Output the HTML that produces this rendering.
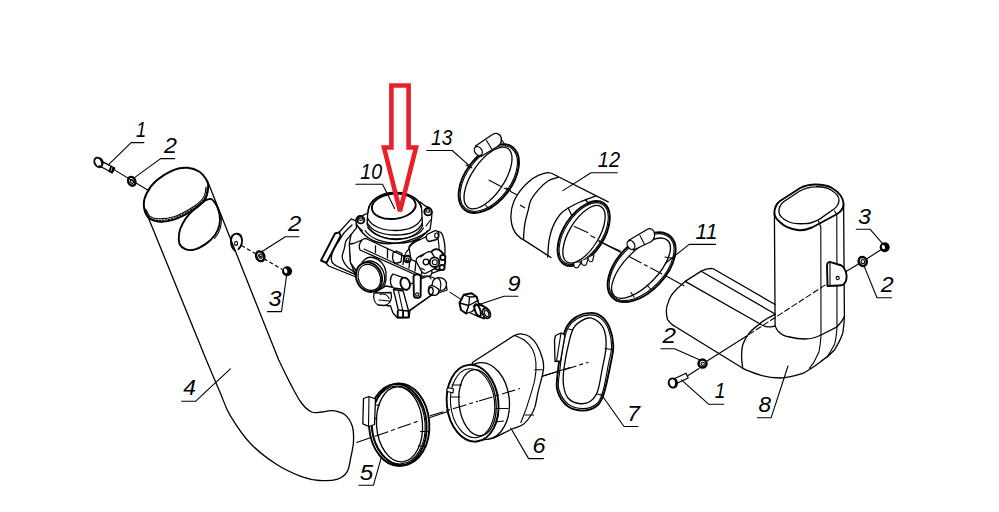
<!DOCTYPE html>
<html><head><meta charset="utf-8"><style>
html,body{margin:0;padding:0;background:#fff;width:999px;height:512px;overflow:hidden}
svg{display:block;position:absolute;left:0;top:0}
.k{fill:none;stroke:#000;stroke-width:1.3;stroke-linejoin:round;stroke-linecap:round}
.b{stroke-width:1.9}
.n{stroke-width:1.1}
.c{fill:none;stroke:#000;stroke-width:1.1;stroke-dasharray:14 3 4 3}
.d{fill:none;stroke:#000;stroke-width:1.2;stroke-dasharray:4 2.5}
.f{fill:#000;stroke:none}
text{font-family:"Liberation Sans",sans-serif;font-style:italic;font-size:22px;fill:#000}
</style></head><body>
<svg width="999" height="512" viewBox="0 0 999 512">
<g id="pipe4">
<path class="k b" d="M143.8,204.9 C143.6,201.0 144.6,197.3 146.7,193.2 C148.8,189.1 151.9,184.4 156.5,180.5 C161.1,176.6 168.8,171.9 174.0,169.8 C179.2,167.7 183.4,167.5 187.7,167.8 C191.9,168.1 196.4,169.8 199.5,171.7 C202.6,173.6 204.9,176.9 206.3,179.5 C207.8,182.1 208.4,184.1 208.2,187.3 C208.0,190.6 207.7,195.2 205.3,199.0 C202.9,202.8 198.8,206.4 193.6,209.8 C188.4,213.2 179.9,217.7 174.0,219.6 C168.1,221.5 162.8,222.0 158.4,221.5 C154.0,221.0 150.1,219.4 147.7,216.6 C145.3,213.8 144.0,208.8 143.8,204.9 Z"/>
<path class="k n" d="M146.3,210.0 C146.9,211.1 148.0,215.0 150.0,216.5 C152.0,218.0 154.4,218.8 158.4,218.8 C162.4,218.9 168.2,218.8 174.0,216.8 C179.8,214.8 188.1,210.2 193.0,207.0 C197.9,203.8 201.3,200.8 203.5,197.5 C205.7,194.2 205.6,188.8 206.0,187.0"/>
<path class="k n" style="stroke-dasharray:1.5 1.5" d="M145.2,212.0 C145.8,213.1 146.8,216.9 149.0,218.3 C151.2,219.7 154.2,220.2 158.4,220.2 C162.6,220.2 168.2,220.2 174.0,218.2 C179.8,216.2 188.2,211.7 193.3,208.4 C198.4,205.1 202.2,201.9 204.5,198.3 C206.8,194.7 206.8,188.9 207.2,187.0"/>
<path class="k" d="M144,207 L206.3,360 C208.6,365.5 216.3,383.7 220.3,393.0 C224.3,402.3 225.3,407.4 230.4,415.8 C235.5,424.2 243.1,435.7 250.7,443.7 C258.3,451.7 267.5,458.5 276.0,464.0 C284.5,469.5 294.3,473.9 301.5,476.7 C308.7,479.4 313.4,480.1 319.3,480.5 C325.2,480.9 332.4,480.8 337.0,479.3 C341.6,477.8 344.9,475.4 347.2,471.6 C349.5,467.8 349.9,461.5 351.0,456.4 C352.1,451.3 353.3,446.3 353.5,441.2 C353.7,436.1 353.7,430.4 352.2,426.0 C350.7,421.6 348.0,417.2 344.6,414.6 C341.2,412.1 335.8,411.1 332.0,410.7 C328.2,410.3 325.2,411.8 321.8,412.0 C318.4,412.2 315.0,413.5 311.6,412.0 C308.2,410.5 304.9,407.4 301.5,403.0 C298.1,398.6 295.1,392.6 291.3,385.4 C287.5,378.2 280.8,364.2 278.7,360.0 L207.5,181"/>
<path class="k b" d="M211.2,199 C215,201 218,208 219.5,214 C221,222 219,229 215,235 C210,242 201,248 193.6,249.8 C188,251 182,249 179.5,244 C178,238 179,230 183,223 C187,215 195,208 203,202 C206,200 209,198.5 211.2,199 Z"/>
<path class="k n" d="M213.5,201.5 C217.5,206 220.5,212 221.3,218 C221.8,226 219.5,233 214.5,238.5"/>
<path class="k b" d="M234.8,250.5 C230.8,247.5 229.8,239.5 232.3,235.8 C235,232.3 240,233.3 241.5,237.3 C243,241.3 241.5,246.3 238.5,249"/>
<ellipse class="k n" cx="236.1" cy="243.4" rx="1.5" ry="2" />
<path class="d" d="M241.4,245.5 L282.4,269.5"/>
<ellipse class="k" style="stroke-width:2.5" cx="260.1" cy="256.3" rx="3.9" ry="5" transform="rotate(-25 260.1 256)"/>
<ellipse class="k n" cx="260.3" cy="256.3" rx="1.6" ry="2.2" transform="rotate(-25 260.1 256)"/>
<circle class="f" cx="287.1" cy="271.3" r="5"/>
<ellipse cx="285.6" cy="270.8" rx="1.6" ry="2.6" fill="#fff" transform="rotate(-20 285.6 270.8)"/>

</g>
<g id="bolts">
<ellipse class="k b" cx="98.2" cy="162.3" rx="3.6" ry="4.9" style="fill:#fff" transform="rotate(-25 98.2 162.3)"/>
<path class="k" d="M100.2,158 C102.5,159 103.5,162 102.6,165 C102,166.5 101,167.2 99.5,167.5"/>
<path class="k" d="M99.05,165.74 L112.28,172.77 L114.72,168.17 L101.49,161.14"/>
<path class="k b" d="M110.8,167.2 L109.5,171.5 M113,168.5 L111.8,172.5"/>
<path class="k n" d="M114,169.6 L148.9,190.7"/>
<ellipse class="k" style="stroke-width:2.5" cx="131.75" cy="181.3" rx="3.5" ry="4.5" transform="rotate(-25 131.75 181.3)"/>
<ellipse class="k n" cx="131.9" cy="181.5" rx="1.4" ry="2" transform="rotate(-25 131.75 181.3)"/>
<ellipse class="k b" cx="672.9" cy="383" rx="4.1" ry="4.7" style="fill:#fff" transform="rotate(-20 672.9 383)"/>
<path class="k" d="M673.8,378.8 C675.6,380 676,383 675.3,385.5 C674.9,386.5 674.3,387.2 673.5,387.5"/>
<path class="k" d="M676.42,383.49 L688.2,377.99 L686,373.27 L674.22,378.77"/>
<path class="k n" d="M688,375.5 L699,368.5"/>
<ellipse class="k" style="stroke-width:2.5" cx="702.5" cy="363.6" rx="4" ry="4"/>
<ellipse class="k n" cx="702.7" cy="363.8" rx="1.7" ry="1.6"/>
<path class="k n" d="M706.3,361.5 L742,339"/>
<path class="k n" style="stroke-dasharray:5.5 3" d="M742,339 L826,284.5"/>
<path class="k n" d="M846,271.5 L858.5,264"/>
<ellipse class="k" style="stroke-width:2.5" cx="862.7" cy="261.5" rx="4" ry="4.6" transform="rotate(-20 862.7 261.5)"/>
<ellipse class="k n" cx="862.8" cy="261.7" rx="1.7" ry="2.1" transform="rotate(-20 862.7 261.5)"/>
<path class="k n" d="M866.5,259 L880.5,250"/>
<circle class="f" cx="884.7" cy="247.3" r="5"/>
<ellipse cx="883.4" cy="247" rx="1.5" ry="2.4" fill="#fff" transform="rotate(-20 883.4 247)"/>

</g>
<g id="clamp13">
<ellipse class="k b" cx="488.8" cy="178.6" rx="39.4" ry="23.2" transform="rotate(-52.7 488.8 178.6)"/>
<ellipse class="k n" cx="488.8" cy="178.6" rx="37.8" ry="21.6" transform="rotate(-52.7 488.8 178.6)"/>
<ellipse class="k" cx="488" cy="178" rx="35.5" ry="16.2" transform="rotate(-56 488 178)"/>
<path class="k n" d="M466,165 L470.5,167.5 M485.5,205 L489,209 M506,188 L510.5,190.5"/>
<path class="k" style="fill:#fff" d="M475.5,146 L492.5,134.5 C496.5,132 500.5,134 501.3,138 C502,142 500,145 497.5,146.5 L481,156.5 Z"/>
<ellipse class="k" cx="478.3" cy="151" rx="3.5" ry="4.9" style="fill:#fff" transform="rotate(-35 478.3 151)"/>
<path class="k n" d="M486.5,140.5 L492,149.5"/>
<path class="k n" d="M501,139 L505.5,145.5"/>
<path class="c" d="M488.7,179.9 L516.8,194.8"/>

</g>
<g id="hose12">
<path class="k" d="M548,172.7 C535,174 521,186 514,201 C509,213 510,228 517.5,235.2 C519.5,237.5 521.5,239 523.75,239.9 L551,257.5"/>
<path class="k" d="M548,172.7 C550,172.8 551,173 553,174 L608.2,201.9"/>
<path class="k" d="M557.9,177.3 C556.2,177.9 551.2,178.9 548.0,181.0 C544.8,183.1 541.3,186.4 538.5,189.6 C535.7,192.8 532.7,196.6 531.0,200.0 C529.3,203.4 529.2,206.1 528.2,210.1 C527.2,214.1 525.6,219.2 524.8,224.0 C524.0,228.8 523.7,236.3 523.5,238.8"/>
<path class="k" d="M547.7,257.0 C547.9,254.7 548.2,247.1 548.7,242.9 C549.2,238.7 550.0,235.4 551.0,232.0 C552.0,228.6 553.3,225.4 554.9,222.4 C556.4,219.4 558.3,216.4 560.5,214.0 C562.7,211.6 565.0,210.0 568.2,208.0 C571.5,206.0 575.4,204.0 580.0,202.0 C584.6,200.0 593.2,196.8 595.9,195.8"/>
<path class="k" d="M568.2,208 L572,216 M585.5,200 L591.5,206"/>
<ellipse class="k b" cx="583.7" cy="233.6" rx="36.4" ry="20.2" style="fill:#fff" transform="rotate(-56.9 583.7 233.6)"/>
<ellipse class="k n" cx="583.7" cy="233.6" rx="34.8" ry="18.6" transform="rotate(-56.9 583.7 233.6)"/>
<ellipse class="k" cx="584" cy="234.3" rx="32.5" ry="14.8" transform="rotate(-58.5 584 234.3)"/>
<path class="c" d="M520,205 L525,208"/>
<path class="k n" d="M574.3,226.5 L587.7,232.6"/>
<path class="k n" d="M590.7,235.7 L594.8,237.8 M599,240.8 L610,246.5"/>
<path class="k n" d="M610,246.5 L620.3,251"/>
<path class="k n" style="fill:#fff" d="M574,263 C573,267 575.5,268.5 578,267.5 L581,262.5"/>
<path class="k n" style="fill:#fff" d="M581.5,261 C581,265 583.5,266 586,265 L588.5,258.5"/>
<path class="k n" style="fill:#fff" d="M588,258 C588,261.5 590.5,262.5 592.5,261 L594,255"/>
</g>
<g id="clamp11">
<ellipse class="k b" cx="641.6" cy="267.1" rx="42.2" ry="24.3" transform="rotate(-46.6 641.6 267.1)"/>
<ellipse class="k n" cx="641.6" cy="267.1" rx="40.6" ry="22.7" transform="rotate(-46.6 641.6 267.1)"/>
<ellipse class="k" cx="641" cy="268.2" rx="38.5" ry="17" transform="rotate(-46 641 268.2)"/>
<path class="k n" d="M631,292.5 L634,297 M647,285 L651,289.5 M665,257 L671.5,258"/>
<path class="k" style="fill:#fff" d="M628.5,240.5 L647,229.5 C650.5,227.5 654,229.5 654.5,233.5 C655,237.5 653,240.5 650.5,242 L633.5,250 Z"/>
<ellipse class="k" cx="631" cy="245" rx="3.5" ry="4.8" style="fill:#fff" transform="rotate(-32 631 245)"/>
<path class="k n" d="M640,235.5 L644.5,244.5"/>
<path class="k n" d="M598.7,241 L622,253"/>
<path class="c" d="M629,256.5 L662.2,274"/>
<path class="k n" d="M666,276 L684,285.8"/>

</g>
<g id="pipe8">
<!-- upright top -->
<path class="k b" d="M774.4,213 C774.5,207 776,204 780,201 L800.2,188 C805,185.5 810,184.5 815.4,184.5 C822,184.5 828,185.5 832,188 C838,191.5 843,196 843.6,204 C843.6,208 841,212 835.3,215 L812,227.5 C806,230 801,230.5 797.8,230 C790,229 785,227 781,223 C777,220 774.4,217 774.4,213 Z"/>
<path class="k" d="M779,212 C778.5,207 780,204.5 784,201.5 L799,191.5 C804,188.5 810,186.8 815.4,186.8 C822,186.5 827,187.5 831,190 C836,193 839,196 839,200 C839,203.5 838,206 834,209 L818.9,219.6 C813,222.5 809,223.7 804.8,223.7 C797,224 792,223.5 788,221.5 C783,219 779,216 779,212 Z"/>
<path class="k" d="M774.4,212 L775.1,326 C776.5,329 777.5,330.5 778,331.2 C782,335 785,336.5 789.7,337 C795,338.5 800,339 805.4,339 C811,339 816,337.5 821,335 C826,332.5 831,330 836.6,327.2 C840,324 843,320 844.4,316.5"/>
<path class="k" d="M843.6,204 L844.4,316.5 C844,324 843.5,330 842.5,334 C840,341 837,346 834.7,349.7 C830,355 826,358 821,361.4 C815,366 809,370 803.4,373.2 C795,376 788,378 780,378 C773,378 766,377 760.4,375.1 C754,373 748,371 742.8,368.3 L676,327 C672,325 669,322 667.5,319.5 C665.8,313 666.5,306 668.2,302.5 C670,297 672,294 674,292 C677,288.5 680,286 685.2,281.4 L701.6,270.9 C704,269.5 707,268.3 711.5,268.3 C713,268.4 714,269 715,269.7 L775.1,304.5"/>
<path class="k" d="M701.6,271.5 L775.1,314"/>
<path class="k" d="M685.2,281.4 L762,325 C765,326.5 768,327.2 771,326.8 L775.4,326"/>
<path class="k" d="M775.1,314.3 C768,317.5 763,320.5 759.2,324.4 C755,327.5 751.5,330 749,333.3 C746,337 744,341 742.7,345 C741,352 741.5,361 742.8,368.3"/>
<path class="k n" d="M820.8,227 L821,335 C820.5,342 820,347 819,351.7 C817,356 815,360 813.2,363.4 L809.3,368.3"/>
<path class="k n" d="M836.8,214.5 L837,327.2 C836.5,335 835.7,340 834.7,343.9 C832,349 829,354 826.9,357.5"/>
<path class="k n" d="M818.5,221 L820.8,227"/>
<path class="k n" d="M834.5,211 L836.8,214.5"/>
<!-- tab -->
<path class="k b" style="fill:#fff" d="M827.5,286 L827,265.5 C827,262.5 829,261.5 831.5,262.3 L841.5,265.5 C845.5,268 847,274 846.5,278.5 C846,283 843,286 839,285.5 Z"/>
<path class="k n" d="M830,263 L830,284.5"/>
<circle class="k n" cx="837.7" cy="278" r="1.6"/>

</g>
<g id="clamp5">
<ellipse class="k b" cx="400.5" cy="424.3" rx="28.8" ry="41" transform="rotate(-4 400.5 424.3)"/>
<ellipse class="k b" cx="397.8" cy="425" rx="28.8" ry="41" transform="rotate(-4 397.8 425)"/>
<ellipse class="k n" cx="398.3" cy="425" rx="26.8" ry="39" transform="rotate(-4 398.3 425)"/>
<ellipse class="k" cx="399.5" cy="424.3" rx="23" ry="37.6" transform="rotate(-4 399.5 424.3)"/>
<path class="k n" d="M373.5,405 L379.5,405 M371.5,418.5 L377,418.5 M420.5,431.5 L428,431.5 M418.5,446 L425.5,446"/>
<path class="k" style="fill:#fff" d="M363.5,398.5 L369,396.5 L375.5,399 L374.5,424.5 L369,426.5 L362.8,423.8 Z"/>
<path class="k n" d="M369,396.5 L368.5,426"/>
<path class="k n" d="M356.75,442.5 L371,437.6"/>
<path class="c" d="M375,436.3 L420,420.5"/>
<path class="k n" d="M428.5,418 L460,407.5"/>

</g>
<g id="hose6">
<path class="k" style="fill:#fff" d="M472.3,362.5 L514.4,335.4 C515.5,335.1 518.3,333.7 520.8,333.9 C523.3,334.1 526.7,334.6 529.4,336.5 C532.1,338.4 534.9,341.4 537.0,345.0 C539.1,348.6 541.2,353.9 542.3,358.0 C543.4,362.1 544.1,364.1 543.4,369.8 C542.7,375.5 539.4,386.1 538.0,392.4 C536.6,398.7 536.0,403.5 534.8,407.4 C533.5,411.3 532.5,413.1 530.5,416.0 C528.5,418.9 526.0,422.4 523.0,424.6 C520.0,426.8 516.9,426.9 512.2,429.0 C507.5,431.1 497.9,436.1 495.0,437.5 L474,441.7 Z"/>
<path class="k n" d="M514.4,335.4 C516.2,336.3 522.1,338.4 525.1,340.8 C528.1,343.1 530.8,345.8 532.6,349.4 C534.4,353.0 535.5,357.3 535.9,362.3 C536.3,367.3 536.2,372.3 534.8,379.5 C533.4,386.7 529.6,398.1 527.3,405.3 C525.0,412.5 521.9,419.6 520.8,422.5"/>
<path class="k n" d="M534.8,369.8 L542.3,369.8 M525,415 L533.5,415"/>
<ellipse class="k" cx="483.5" cy="401" rx="25.8" ry="38.5" style="fill:#fff" transform="rotate(-6 483.5 401)"/>
<ellipse class="k b" cx="472.6" cy="403.2" rx="25.8" ry="38.5" style="fill:#fff" transform="rotate(-6 472.6 403.2)"/>
<path class="k" style="fill:#fff" d="M473.2,364.6 L484.9,362 L485,440 L474.1,441.7 Z" opacity="0"/>
<ellipse class="k n" cx="472.6" cy="403.2" rx="22" ry="34.6" transform="rotate(-6 472.6 403.2)"/>
<ellipse class="k" cx="477.5" cy="402.7" rx="18.5" ry="33.2" transform="rotate(-6 477.5 402.7)"/>
<path class="k n" d="M452,385 L461.5,385 M451,397 L460,397 M496,408.5 L508,408.5 M495.5,422 L503.5,421"/>
<path class="k n" style="fill:#fff" d="M447.5,391.5 C446,389.5 447,387.5 449.5,388 L453.5,389 L453,393 Z"/>
<path class="c" d="M430,415.7 L478,401.2"/>
<path class="c" d="M479,401 L520,388.5"/>
<path class="k n" d="M542.6,376 L570,367.5"/>
</g>
<g id="clamp7">
<path class="k b" d="M590.0,312.9 C594.0,312.8 598.0,313.8 601.2,316.2 C604.5,318.6 607.5,322.6 609.5,327.5 C611.5,332.4 613.2,339.0 613.3,345.4 C613.4,351.8 611.9,357.4 610.2,365.7 C608.6,373.9 605.6,388.2 603.4,394.9 C601.1,401.6 600.1,403.5 596.7,406.1 C593.3,408.7 588.1,410.6 583.2,410.6 C578.3,410.6 571.8,409.5 567.5,406.1 C563.2,402.7 559.0,396.0 557.4,390.4 C555.8,384.8 556.9,380.8 557.8,372.4 C558.6,364.0 560.9,347.8 562.5,340.0 C564.1,332.2 565.1,329.4 567.5,325.5 C569.9,321.6 573.2,318.6 577.0,316.5 C580.8,314.4 586.0,312.9 590.0,312.9 Z"/>
<path class="k n" d="M589.8,314.9 C593.7,314.8 597.5,315.7 600.5,318.1 C603.6,320.5 606.5,324.4 608.4,329.1 C610.2,333.9 611.6,340.4 611.6,346.4 C611.6,352.5 609.7,357.6 608.2,365.4 C606.7,373.2 604.5,386.7 602.4,393.1 C600.4,399.6 599.4,401.6 596.2,404.2 C593.0,406.7 588.0,408.6 583.3,408.6 C578.6,408.6 572.3,407.5 568.3,404.2 C564.2,401.0 560.2,394.4 558.8,389.0 C557.4,383.5 558.8,379.6 559.7,371.7 C560.5,363.8 562.5,348.8 564.0,341.4 C565.4,334.0 566.2,331.1 568.4,327.3 C570.6,323.5 573.8,320.5 577.4,318.5 C580.9,316.4 586.0,315.0 589.8,314.9 Z"/>
<path class="k" d="M588.0,318.0 C591.8,317.2 595.2,319.3 598.0,321.5 C600.8,323.7 603.2,326.6 604.5,331.0 C605.8,335.4 606.4,341.2 606.0,347.7 C605.6,354.2 603.4,362.7 602.0,370.0 C600.6,377.3 599.5,386.2 597.5,391.5 C595.5,396.8 593.1,399.5 590.0,401.5 C586.9,403.5 582.7,404.1 579.0,403.5 C575.3,402.9 570.6,401.1 568.0,398.0 C565.4,394.9 564.2,390.0 563.5,385.0 C562.8,380.0 563.0,375.5 564.0,368.0 C565.0,360.5 567.7,347.0 569.5,340.0 C571.3,333.0 571.9,329.7 575.0,326.0 C578.1,322.3 584.2,318.8 588.0,318.0 Z"/>
<path class="k n" d="M568.5,329 L572.5,330 M605,348.5 L611.5,349.5 M597,394 L602.5,395.5"/>
<path class="k" style="fill:#fff" d="M555.5,335.5 L561,333 L565,335 L560.5,361 L555,361.5 L554.5,340 Z"/>
<path class="k n" d="M561,333 L556.5,361.3"/>
<path class="k n" d="M542.7,376.2 L558,371.5"/>
<path class="c" d="M563,370.2 L588.4,362.2"/>
</g>
<g id="carb">
<!-- back right housing -->
<path class="k" style="fill:#fff" d="M409,246.7 C412,242 416,240 420.4,239.5 L436,232 C440,230.5 442.5,233 443.5,238 C445,244 445.5,250 444.5,256 C443.5,263 442,268 439.8,270.4 L425,276 L412,268 Z"/>
<path class="k n" d="M436,232 C439,240 440,250 438.5,262"/>
<path class="k" style="fill:#fff" d="M427,234.5 L434.5,230.8 C437,230 439,232 439,235 C439,237.5 437.5,239.5 435,240 L429,241.5 C426.5,241 425.5,237 427,234.5 Z"/>
<ellipse class="k n" cx="436.5" cy="235.5" rx="1.8" ry="2.5"/>
<!-- flange -->
<path class="k" style="fill:#fff" d="M356,221.5 C355.5,217 358.5,215 362,215.8 L368,213 L420,202 L426,206.5 C429,207 431.5,209 432,212 L431.5,219 C431,223 430.5,227 430,229.5 C420,238 404,243.5 388,243.8 C376,243.5 368,239 362.7,233 C359,229 356.5,226 356,221.5 Z"/>
<circle class="k b" cx="360.8" cy="219.9" r="3.5" style="fill:#fff"/>
<ellipse class="k n" cx="360.6" cy="219.2" rx="2" ry="1.2"/>
<circle class="k b" cx="428" cy="211.7" r="3.7" style="fill:#fff"/>
<ellipse class="k n" cx="427.8" cy="211" rx="2.1" ry="1.3"/>
<path class="k n" d="M358,226.5 L362.5,231"/>
<path class="k n" d="M430.5,220 L426,226"/>
<!-- dome -->
<path class="k" style="fill:#fff" d="M368,211 C367.5,216 367,221 367.3,225 C372,234 384,239.5 397,239.5 C409,239 419,234 422.5,226 L421.5,207 C419,198 408,192.5 395,192.5 C381,192.5 369,200 368,211 Z"/>
<ellipse class="k b" cx="393.8" cy="206.3" rx="22" ry="12.6" style="fill:#fff" transform="rotate(-6 393.8 206.3)"/>
<path class="k" d="M368.2,212 C368.5,201 380,193 395,192.5 C409,192.5 419,199 421.5,208"/>
<path class="k" d="M367.5,218 C371,226 382,230.5 395,230.5 C408,230.5 418,226 421.8,218"/>
<path class="k" d="M367.3,223 C372,231 383,235 396,235 C409,235 419,231 422.3,223"/>
<path class="k n" d="M367.6,227.5 C373,235 384,238.8 397,238.8 C410,238.5 420,234.5 423.5,228"/>
<path class="k" d="M365,230.5 C371,239 384,243.5 398,243.2 C412,243 422,238 427.5,231"/>
<!-- left block -->
<path class="k" style="fill:#fff" d="M338.9,232.5 L351.2,218.9 L356,221 L356.5,227.8 L351,234.6 L349.5,242.8 L350.5,262 L356,277 L342.3,271.5 L328.7,266 L325.2,262 L339.6,236 Z"/>
<path class="k b" style="fill:#fff" d="M321,260.5 L335,233.5 L339.3,232.3 L340.6,236 L326.5,262.8 Z"/>
<path class="k" d="M352.0,225.0 C350.7,226.3 346.1,230.5 344.0,233.0 C341.9,235.5 341.5,237.0 339.6,240.0 C337.7,243.0 334.1,247.3 332.8,251.0 C331.5,254.7 330.9,259.3 332.0,262.0 C333.1,264.7 335.8,265.4 339.6,267.4 C343.4,269.4 352.1,273.1 354.6,274.2"/>
<path class="k" d="M351.0,234.6 C350.2,235.7 347.1,238.7 346.0,241.0 C344.9,243.3 345.0,245.4 344.4,248.2 C343.8,251.1 341.7,254.6 342.3,257.8 C342.9,261.0 345.5,264.9 347.8,267.4 C350.1,269.9 354.6,272.1 356.0,273.0"/>
<!-- cylinder body & linkage -->
<path class="k" style="fill:#fff" d="M349.3,244 L353.5,243.5 L362,240 L430,272 L428,282 L402,291 L381,288 L360,276 L350.5,263 Z"/>
<path class="k" style="fill:#fff" d="M361.7,240.5 C363,238.5 366,238 368,239.5 L430.5,268.5 C433,271 432,275 429.5,276.5 L424,278.5 L360,250 C358.5,247 359.5,242.5 361.7,240.5 Z"/>
<path class="k" d="M375.5,246 L375.5,252.5 M387.5,249.5 L387.5,258 M393,253 L396.5,251 L402,253.5 L401,262 L395,263.5 L392.5,259 Z M404,255.5 L403,264.5 M410,258.5 L409,268 M416,261 L415,271 M422.5,264.5 L421.5,274"/>
<path class="k n" d="M364,249 L424.5,277"/>
<circle class="k b" cx="407.4" cy="259" r="3.3" style="fill:#fff"/>
<circle class="k n" cx="407.4" cy="259.3" r="1.3"/>

<!-- port -->
<path class="k" style="fill:#fff" d="M361,265 C363,259 368,256.5 373,257.5 C380,259 385,265 386,272 L386,280 C385,287 381,292 377,293 Z"/>
<ellipse class="k" cx="371.5" cy="276" rx="12.6" ry="15.4" style="fill:#fff" transform="rotate(-25 371.5 276)"/>
<ellipse class="k b" cx="369" cy="277.2" rx="12.6" ry="15.2" style="fill:#fff" transform="rotate(-25 369 277.2)"/>
<ellipse class="k n" cx="369.3" cy="277.4" rx="10.8" ry="13.4" transform="rotate(-25 369.3 277.4)"/>
<!-- right fitting cluster -->
<path class="k n" d="M419,240 C413,243 409.5,246 408.8,249 C406,252 405,254 404.5,256"/>
<ellipse class="k b" cx="437.5" cy="259.5" rx="7.5" ry="10.5" style="fill:#fff" transform="rotate(-15 437.5 259.5)"/>
<rect class="k" x="-9" y="-9" width="18" height="18" rx="4" ry="4" style="fill:#fff" transform="translate(427,262.5) rotate(-28)"/>
<path class="k n" d="M420.5,257 L424,254.5 M421,268 L424.5,270"/>
<circle class="k b" cx="434.5" cy="262.2" r="4.8" style="fill:#fff"/>
<circle class="k n" cx="434.8" cy="262.2" r="2.5"/>
<circle class="k b" cx="442.8" cy="257.5" r="2.6" style="fill:#fff"/>
<circle class="k b" cx="442" cy="267.5" r="2.6" style="fill:#fff"/>
<circle class="k" cx="426" cy="262" r="2.8"/>
<!-- lower body -->
<path class="k" style="fill:#fff" d="M376,292 L386,286 L402,289 L420,279 L429,276 L446,283 L447,290 L430,296 L410,310.5 L409,317.5 L397.3,317.8 L393,313 L390.5,306 L383,305 C378,304.5 375,300 376,292 Z"/>
<path class="k" d="M408.6,311 L428.6,297.3 L432.5,294.4"/>
<path class="k" style="fill:#fff" d="M374,293 C373,298 374.5,303 378,305 L384,305.5 C388.5,305 391,301 391.5,297 L391,292.5 Z"/>
<path class="k n" d="M380,294.5 C384,293 388,295 389,298.5 M379,300 L389.5,301"/>
<path class="k" style="fill:#fff" d="M393.4,289.5 L403.2,291 L408.6,311 L398.3,310 Z"/>
<path class="k n" d="M398.2,290.2 L402.8,310.5"/>
<path class="k b" d="M397.8,311 L397.6,317.3 L403.2,317.6 L403,311 M403.2,317.6 L408.8,317.3 L408.6,311.5"/>
<path class="k" style="fill:#fff" d="M393,274 L404,277.8 L406.5,289.6 L393.5,288 C389.5,285 389.5,277 393,274 Z"/>
<ellipse class="k b" cx="405.2" cy="283.7" rx="4.6" ry="6.2" style="fill:#fff" transform="rotate(-20 405.2 283.7)"/>
<path class="k b" style="fill:#fff" d="M413.5,276.5 L413.9,296 C414.5,298.5 420,298.5 420.6,296 L420.8,276.5 C419.5,273.5 414.5,273.5 413.5,276.5 Z"/>
<circle class="k n" cx="417.2" cy="294.5" r="1.6"/>
<path class="k" style="fill:#fff" d="M433,281 C435,277 441,276.5 444.5,279.5 C447.5,282.5 447,287.5 444,289.5 L437,292 C434,292.5 431.5,290 431.5,287 Z"/>
<path class="k n" d="M438,278 C440.5,280 441.5,285 440,290.5"/>
<path class="k" style="fill:#fff" d="M428.6,288 C429,285.5 432,285 434.5,286.5 L438.4,289 C439.5,292 438,295 435,295.4 L431,295 C428.5,294 428,291 428.6,288 Z"/>
<ellipse class="k" cx="431" cy="291" rx="2.2" ry="3.6" style="fill:#fff"/>
<path class="k n" d="M423,276.5 C426,275 429.5,276 431,279"/>

</g>
<g id="fit9">
<path class="k n" d="M450.1,292.4 L460.6,299.1"/>
<path class="k" style="fill:#fff" d="M470,299.8 L480.2,303.8 L487.2,308.4 L489,314 L484.1,318.6 L477.8,316.3 L468.4,312 Z"/>
<path class="k b" style="fill:#fff" d="M459.5,303 L463.75,294.8 L471.6,293.2 L476.6,296.7 L477.8,300.6 L472,308 L466.1,313.5 L461,310 Z"/>
<path class="k" d="M463.75,294.8 L469.5,297 L468.8,305.5 L466.1,313.5 M469.5,297 L476.6,296.7 M459.5,303 L468.8,305.5"/>
<path class="k" style="fill:#fff" d="M468.8,305.5 L477.8,300.6 L479,305 L472,311.5 L466.1,313.5 Z"/>
<ellipse class="k b" cx="477.6" cy="310.2" rx="2.6" ry="6.2" style="fill:#fff" transform="rotate(-20 477.6 310.2)"/>
<path class="k" d="M479.4,304.9 L487.2,308.4 M479.4,316.3 L484.1,318.6"/>
<ellipse class="k b" cx="486.4" cy="313.3" rx="3.6" ry="5.2" style="fill:#fff" transform="rotate(-25 486.4 313.3)"/>
<ellipse class="k n" cx="486.6" cy="313.5" rx="2" ry="3.2" transform="rotate(-25 486.6 313.5)"/>

</g>
<g id="leaders">
<path class="k n" d="M108.3,164.9 L131.2,142.6 L143.9,142.6"/>
<path class="k n" d="M134.9,177.4 L160.6,158.6 L174.6,158.6"/>
<path class="k n" d="M262.5,251.3 L285.3,236.7 L299,236.7"/>
<path class="k n" d="M267.4,311.6 L281.5,311.6 L286.5,276"/>
<path class="k n" d="M181.6,401.2 L195.7,401.2 L230.4,368.9"/>
<path class="k n" d="M359,485.3 L373.4,485.3 L381.2,457.9"/>
<path class="k n" d="M510.7,428 L528.6,458.6 L543.4,458.6"/>
<path class="k n" d="M601,394 L624,426.5 L638,426.5"/>
<path class="k n" d="M757.4,417.8 L771.1,417.8 L788,366"/>
<path class="k n" d="M473.3,306.5 L504,296.2 L518,296.2"/>
<path class="k n" d="M355.9,184.3 L382.5,184.3 L394.6,208.4"/>
<path class="k n" d="M665.5,263.2 L689.2,244.4 L715.6,244.4"/>
<path class="k n" d="M562.9,190.6 L591,172.7 L617.3,172.7"/>
<path class="k n" d="M426.8,150.5 L452.2,150.5 L471.8,167.9"/>
<path class="k n" d="M660.9,348.8 L674.5,348.8 L700,360"/>
<path class="k n" d="M681.4,379.8 L708.6,404.2 L723.7,404.2"/>
<path class="k n" d="M856.3,229.2 L870,229.2 L883.4,244.6"/>
<path class="k n" d="M863.8,265.4 L877,297.7 L891.6,297.7"/>

</g>
<g id="labels">
<text transform="translate(136.1,137.2) scale(0.833,1)">1</text>
<text transform="translate(163.9,153.2) scale(1.058,1)">2</text>
<text transform="translate(288.0,231.2) scale(1.083,1)">2</text>
<text transform="translate(268.6,306.1) scale(1.064,1)">3</text>
<text transform="translate(183.3,395.3) scale(1.036,1)">4</text>
<text transform="translate(359.7,480.1) scale(1.1,1)">5</text>
<text transform="translate(532.5,453.0) scale(1.064,1)">6</text>
<text transform="translate(626.9,420.6) scale(1.064,1)">7</text>
<text transform="translate(758.5,412.4) scale(1.027,1)">8</text>
<text transform="translate(507.5,290.5) scale(1.064,1)">9</text>
<text transform="translate(360.3,179.4) scale(0.887,1)">10</text>
<text transform="translate(695.5,238.6) scale(0.96,1)">11</text>
<text transform="translate(597.8,167.2) scale(0.909,1)">12</text>
<text transform="translate(431.0,145.1) scale(0.87,1)">13</text>
<text transform="translate(662.6,343.4) scale(1.1,1)">2</text>
<text transform="translate(714.8,398.2) scale(0.867,1)">1</text>
<text transform="translate(858.1,223.9) scale(1.064,1)">3</text>
<text transform="translate(880.8,292.3) scale(1.058,1)">2</text>
</g>
<path fill="none" stroke="#e8202a" stroke-width="4.6" stroke-linejoin="miter" d="M391.4,85.5 L408.6,85.5 L408.6,147.5 L416,147.5 L400,211.3 L384,147.5 L391.4,147.5 Z"/>

</svg>
</body></html>
